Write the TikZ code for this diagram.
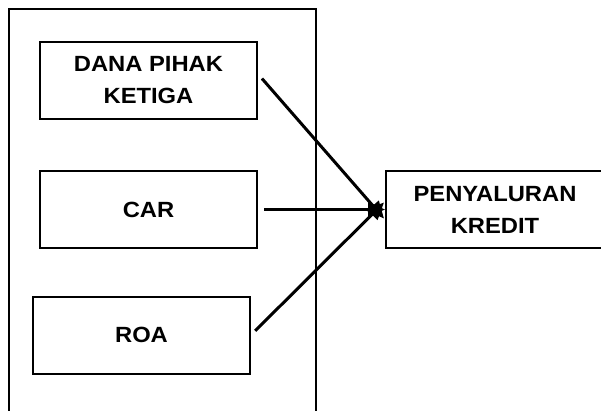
\documentclass[tikz,border=0pt]{standalone}
\usepackage{fontspec}
\setmainfont{Liberation Sans}[FakeStretch=1.08]
\usepackage{tikz}
\usetikzlibrary{arrows.meta, positioning}

\begin{document}
\begin{tikzpicture}[x=1pt, y=-1pt,
    varbox/.style={draw, line width=2pt, minimum width=217pt, minimum height=77pt, align=center, inner sep=0pt,
        font=\bfseries\fontsize{22}{32}\selectfont},
    link/.style={-{Stealth[length=17pt, width=15pt, inset=0pt]}, line width=3pt, shorten <=6pt, shorten >=0pt}]

    \useasboundingbox (0,0) rectangle (601,410);

    % Frame round the independent variables
    \draw[line width=2pt] (9,420) -- (9,9) -- (316,9) -- (316,420);

    % Nodes
    \node[varbox] (dpk) at (148.5,80) {DANA PIHAK\\KETIGA};
    \node[varbox] (car) at (148.5,209.5) {CAR};
    \node[varbox] (roa) at (141.5,335) {ROA};
    \node[varbox, minimum width=218pt] (kredit) at (495,209.5) {PENYALURAN\\KREDIT};

    % Arrows
    \draw[link] (dpk.east) ++(0,-6) -- ([xshift=-1pt,yshift=-9pt]kredit.west);
    \draw[link] (car) -- (kredit);
    \draw[link] (roa.east) -- ([xshift=-1pt,yshift=7pt]kredit.west);

\end{tikzpicture}
\end{document}
